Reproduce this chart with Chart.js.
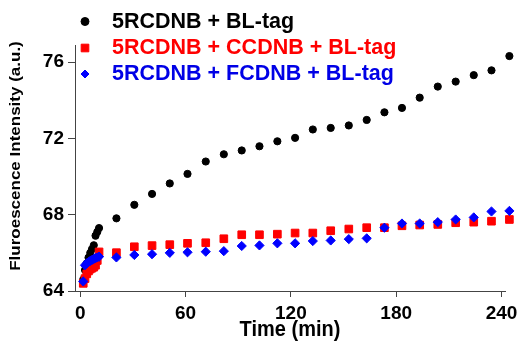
<!DOCTYPE html>
<html><head><meta charset="utf-8">
<script src="https://cdn.jsdelivr.net/npm/chart.js@4/dist/chart.umd.min.js"></script>
<style>html,body{margin:0;padding:0;background:#fff}#wrap{width:531px;height:349px}</style>
</head><body><div id="wrap"><canvas id="c" width="531" height="349"></canvas></div>
<script>
const times = [1.7, 2.7, 3.7, 4.7, 5.7, 6.7, 7.7, 8.7, 9.7, 10.7,
  20.6, 30.8, 40.9, 51.0, 61.1, 71.5, 81.8, 92.0, 102.1, 112.3, 122.4, 132.5,
  142.7, 153.0, 163.2, 173.3, 183.3, 193.4, 203.7, 213.9, 224.2, 234.3, 244.5];
const seriesLabels = ['5RCDNB + BL-tag', '5RCDNB + CCDNB + BL-tag', '5RCDNB + FCDNB + BL-tag'];
const blTag = [64.6, 65.1, 65.45, 65.75, 66.0, 66.2, 66.4, 66.9, 67.1, 67.3,
  67.81, 68.52, 69.09, 69.64, 70.14, 70.79, 71.17, 71.37, 71.59, 71.85, 72.03, 72.47,
  72.55, 72.68, 72.97, 73.37, 73.6, 74.14, 74.72, 74.98, 75.32, 75.57, 76.32];
const ccdnb = [64.4, 64.65, 64.9, 65.05, 65.15, 65.2, 65.25, 65.35, 65.6, 66.05,
  66.01, 66.32, 66.38, 66.43, 66.50, 66.53, 66.74, 66.95, 66.95, 66.98, 67.04, 67.04,
  67.16, 67.25, 67.32, 67.32, 67.42, 67.46, 67.49, 67.58, 67.61, 67.66, 67.75];
const fcdnb = [64.5, 65.35, 65.45, 65.52, 65.58, 65.63, 65.68, 65.72, 65.76, 65.80,
  65.76, 65.89, 65.93, 66.0, 66.03, 66.06, 66.09, 66.36, 66.39, 66.50, 66.50, 66.62,
  66.65, 66.72, 66.76, 67.32, 67.54, 67.54, 67.61, 67.75, 67.86, 68.17, 68.20];
const xTicks = [0, 60, 120, 180, 240];
const yTicks = [64, 68, 72, 76];
const xTitle = 'Time (min)';
const yTitle = 'Fluroescence Intensity (a.u.)';

const FONT = '"Liberation Sans", Arial, sans-serif';
const colors = ['#000000', '#ff0000', '#0000ff'];
const textColors = ['#000000', '#ff0000', '#0000e6'];
const styles = ['circle', 'rect', 'rectRot'];
const radii = [3.6, 5.4, 4.6];

function pts(vals) { return times.map((t, i) => ({x: t, y: vals[i]})); }

const overlay = {
  id: 'overlay',
  afterDraw(chart) {
    const ctx = chart.ctx;
    ctx.save();
    ctx.fillStyle = '#000';
    ctx.textAlign = 'center';
    ctx.textBaseline = 'middle';
    // x title
    ctx.save();
    ctx.translate(290, 329.5);
    ctx.scale(1, 1.12);
    ctx.font = 'bold 20px ' + FONT;
    ctx.fillText(xTitle, 0, 0);
    ctx.restore();
    // y title
    ctx.save();
    ctx.translate(16, 156);
    ctx.rotate(-Math.PI / 2);
    ctx.scale(1, 0.9);
    ctx.font = 'bold 17px ' + FONT;
    ctx.fillText(yTitle, 0, 0);
    ctx.restore();
    // legend
    const ys = [21.5, 48, 74];
    seriesLabels.forEach((lab, i) => {
      ctx.fillStyle = colors[i];
      ctx.strokeStyle = colors[i];
      Chart.helpers.drawPoint(ctx, {pointStyle: styles[i], radius: [4, 5.4, 4][i], rotation: 0, borderWidth: 1}, 85, ys[i]);
      ctx.save();
      ctx.translate(112, ys[i]);
      ctx.scale(1, 1.05);
      ctx.textAlign = 'left';
      ctx.fillStyle = textColors[i];
      ctx.font = 'bold 21.5px ' + FONT;
      ctx.fillText(lab, 0, 0);
      ctx.restore();
    });
    ctx.restore();
  }
};

const vals = [blTag, ccdnb, fcdnb];
const datasets = vals.map((v, i) => ({
  label: seriesLabels[i],
  data: pts(v),
  showLine: false,
  pointStyle: styles[i],
  pointRadius: radii[i],
  pointBorderWidth: 1,
  backgroundColor: colors[i],
  borderColor: colors[i],
  order: 2 - i,
  clip: false
}));

const tickFont = {family: FONT, size: 19, weight: 'bold'};

new Chart(document.getElementById('c'), {
  type: 'scatter',
  data: {datasets},
  options: {
    responsive: false,
    animation: false,
    devicePixelRatio: 1,
    layout: {padding: {top: 45, right: 26, left: 0, bottom: 0}},
    plugins: {legend: {display: false}, tooltip: {enabled: false}},
    scales: {
      x: {
        type: 'linear', min: -3, max: 242,
        afterBuildTicks: s => { s.ticks = xTicks.map(v => ({value: v})); },
        afterFit: s => { s.height = 58; },
        ticks: {font: tickFont, color: '#000', padding: 5, maxRotation: 0, autoSkip: false},
        grid: {drawOnChartArea: false, tickLength: 6, color: '#444', tickColor: '#444'},
        border: {color: '#444', width: 1}
      },
      y: {
        type: 'linear', min: 64, max: 76.9,
        afterBuildTicks: s => { s.ticks = yTicks.map(v => ({value: v})); },
        afterFit: s => { s.width = 75; },
        ticks: {font: tickFont, color: '#000', padding: 4, autoSkip: false},
        grid: {drawOnChartArea: false, tickLength: 7, color: '#444', tickColor: '#444'},
        border: {color: '#444', width: 1}
      }
    }
  },
  plugins: [overlay]
});
</script>
</body></html>
